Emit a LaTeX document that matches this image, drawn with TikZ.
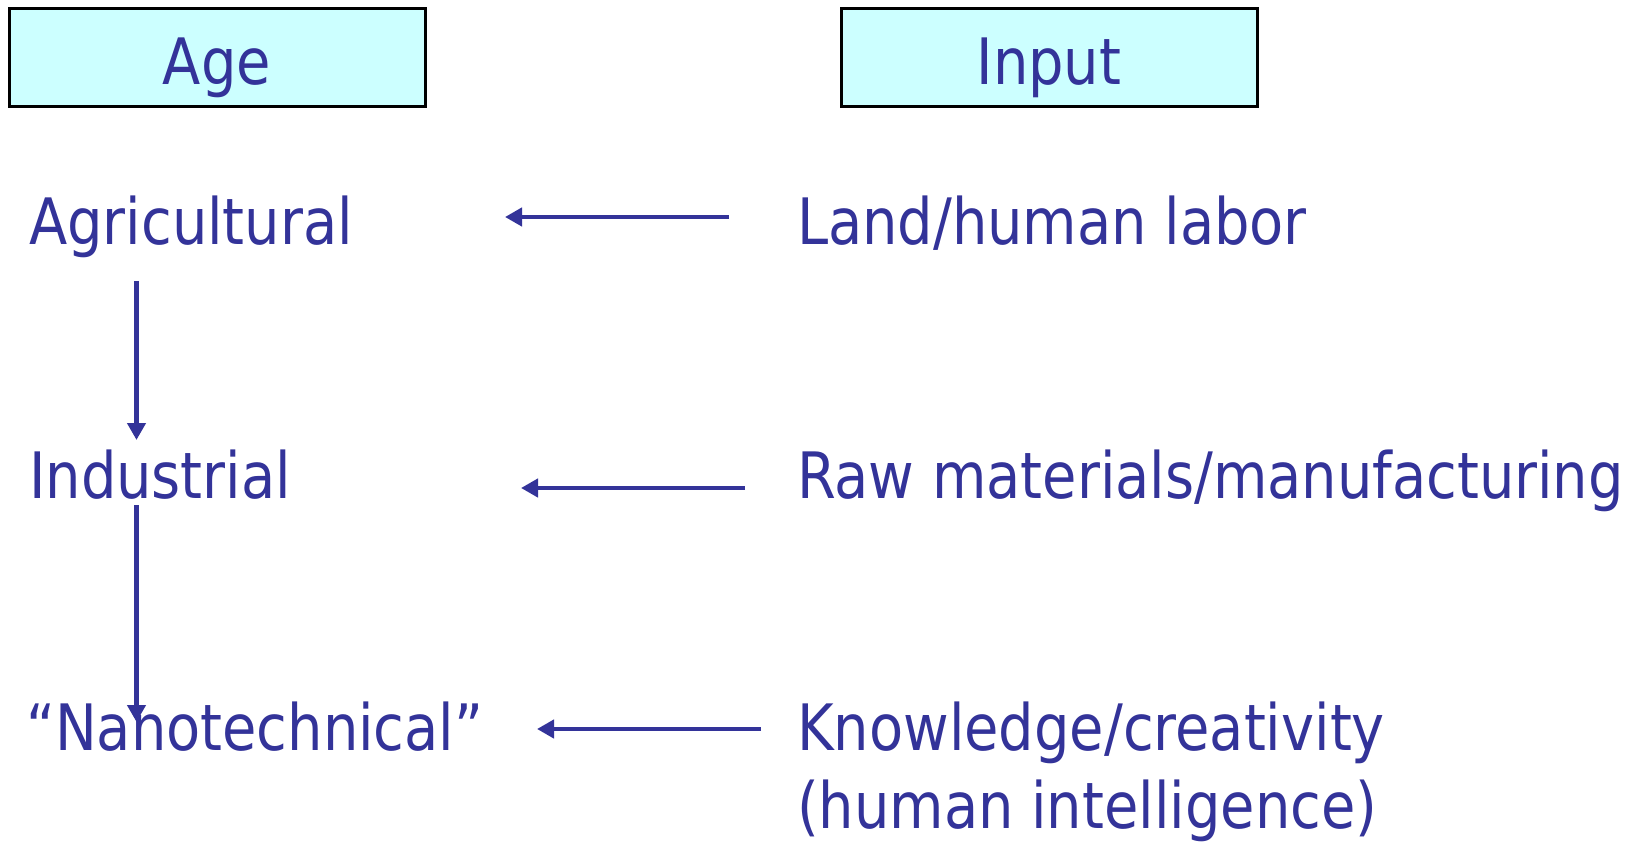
\documentclass[tikz,border=0pt]{standalone}
\usepackage{fontspec}
\setmainfont{DejaVu Sans Condensed}[FakeStretch=0.97]
\usetikzlibrary{arrows.meta}
\definecolor{txt}{HTML}{333399}
\definecolor{boxfill}{HTML}{CCFFFF}
\begin{document}
\begin{tikzpicture}[x=1pt,y=-1pt,
  lbl/.style={anchor=base west,inner sep=0pt,text=txt,font=\fontsize{64}{78}\selectfont},
  hdr/.style={draw=black,line width=3pt,fill=boxfill,minimum width=416pt,minimum height=98pt,inner sep=0pt,text height=54pt,text depth=0pt,text=txt,font=\fontsize{64}{78}\selectfont},
  conn/.style={draw=txt,line width=4.5pt,-{Triangle[length=17pt,width=18pt]}}]
\useasboundingbox (0,0) rectangle (1634,845);
\node[hdr] (age) at (217,58) {Age};
\node[hdr] (input) at (1049,58) {Input};
\node[lbl] (agri) at (29,245) {Agricultural};
\node[lbl] (indu) at (29,498) {Industrial};
\node[lbl] (nano) at (26,750) {“Nanotechnical”};
\node[lbl] (land) at (797,245) {Land/human labor};
\node[lbl] (raw) at (797,498) {Raw materials/manufacturing};
\node[lbl,align=left] (know) at (797,828) {Knowledge/creativity\\(human intelligence)};
\coordinate (a1s) at (729,217); \coordinate (a1e) at (505,217);
\coordinate (a2s) at (745,488); \coordinate (a2e) at (521,488);
\coordinate (a3s) at (761,729); \coordinate (a3e) at (537,729);
\coordinate (v1s) at (136.5,281); \coordinate (v1e) at (136.5,440);
\coordinate (v2s) at (136.5,505); \coordinate (v2e) at (136.5,722);
\draw[conn] (a1s) -- (a1e);
\draw[conn] (a2s) -- (a2e);
\draw[conn] (a3s) -- (a3e);
\draw[conn] (v1s) -- (v1e);
\draw[conn] (v2s) -- (v2e);
\end{tikzpicture}
\end{document}
